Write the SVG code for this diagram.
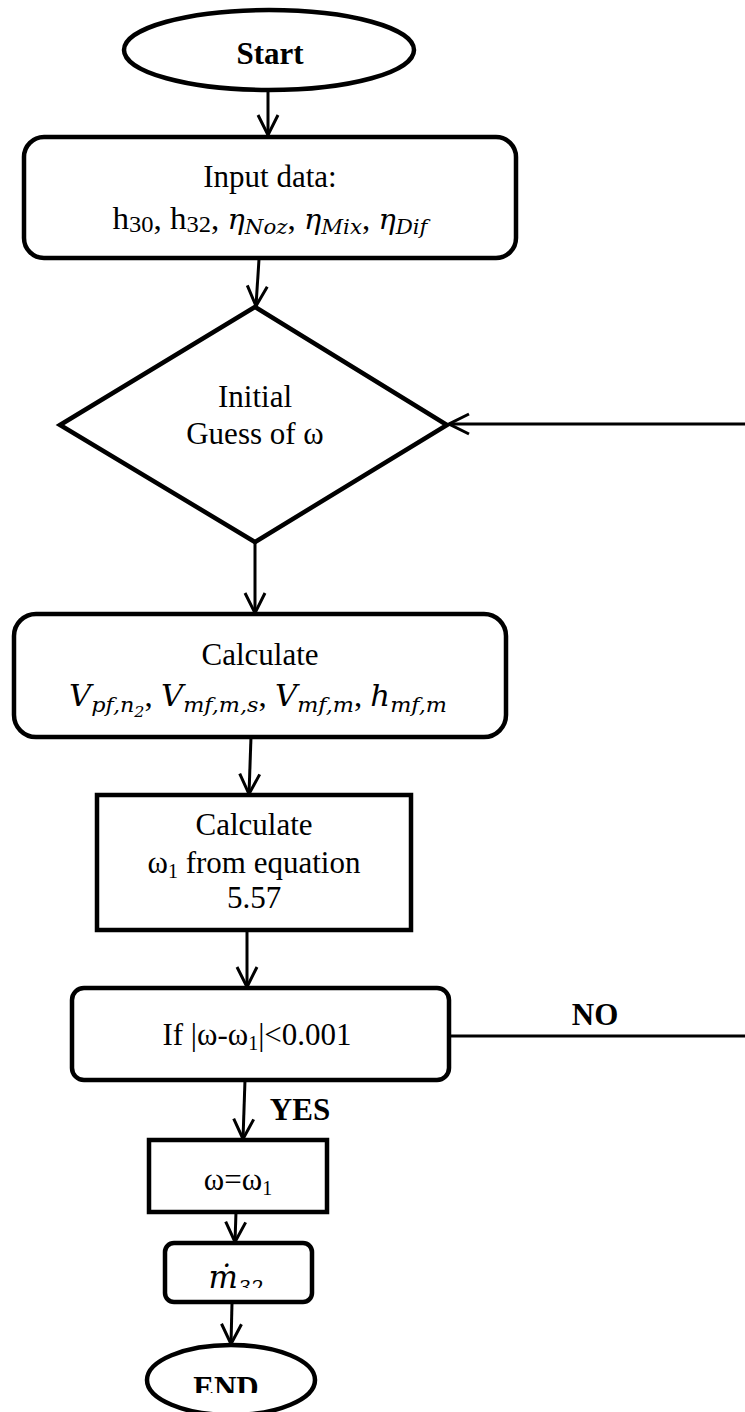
<svg xmlns="http://www.w3.org/2000/svg" width="745" height="1412" viewBox="0 0 745 1412">
  <defs>
    <style>
      .shape { fill: #ffffff; stroke: #000000; stroke-width: 4.5; }
      .conn { fill: none; stroke: #000000; stroke-width: 3; }
      .t { font-family: "Liberation Serif", "Times New Roman", serif; font-size: 31px; fill: #000000; text-anchor: middle; }
      .b { font-weight: bold; }
      .m { font-family: "DejaVu Serif", "Liberation Serif", serif; font-style: italic; }
    </style>
    <marker id="arr" viewBox="-24 -12 26 24" markerWidth="26" markerHeight="24" refX="0" refY="0" orient="auto" markerUnits="userSpaceOnUse">
      <path d="M-20,-10 L0,0 L-20,10" fill="none" stroke="#000000" stroke-width="3" stroke-linejoin="miter"/>
    </marker>
    <clipPath id="clipM"><rect x="160" y="1240" width="160" height="48"/></clipPath>
    <clipPath id="clipEnd"><rect x="140" y="1340" width="180" height="53"/></clipPath>
  </defs>

  <g id="connectors">
    <line class="conn" x1="268" y1="90" x2="268" y2="135" marker-end="url(#arr)"/>
    <line class="conn" x1="259" y1="259" x2="256" y2="306" marker-end="url(#arr)"/>
    <line class="conn" x1="255" y1="542" x2="255" y2="613" marker-end="url(#arr)"/>
    <line class="conn" x1="251" y1="737" x2="249" y2="794" marker-end="url(#arr)"/>
    <line class="conn" x1="247" y1="930" x2="247" y2="987" marker-end="url(#arr)"/>
    <line class="conn" x1="449" y1="1036" x2="745" y2="1036"/>
    <line class="conn" x1="745" y1="424" x2="449" y2="424" marker-end="url(#arr)"/>
    <line class="conn" x1="245" y1="1080" x2="243" y2="1139" marker-end="url(#arr)"/>
    <line class="conn" x1="236" y1="1212" x2="235" y2="1242" marker-end="url(#arr)"/>
    <line class="conn" x1="232" y1="1303" x2="231" y2="1344" marker-end="url(#arr)"/>
    <text class="t b" x="595" y="1025" font-size="30">NO</text>
    <text class="t b" x="300" y="1120" font-size="30">YES</text>
  </g>

  <g id="start">
    <ellipse class="shape" cx="269" cy="50" rx="145" ry="40"/>
    <text class="t b" x="270" y="64">Start</text>
  </g>

  <g id="input">
    <rect class="shape" x="24" y="137" width="492" height="121" rx="20"/>
    <text class="t" x="270" y="187">Input data:</text>
    <text class="t" x="270" y="229" textLength="315" lengthAdjust="spacingAndGlyphs">h<tspan font-size="23" dy="3">30</tspan><tspan dy="-3">, h</tspan><tspan font-size="23" dy="3">32</tspan><tspan dy="-3">, </tspan><tspan class="m" font-size="27">η</tspan><tspan class="m" font-size="20" dy="5">Noz</tspan><tspan dy="-5">, </tspan><tspan class="m" font-size="27">η</tspan><tspan class="m" font-size="20" dy="5">Mix</tspan><tspan dy="-5">, </tspan><tspan class="m" font-size="27">η</tspan><tspan class="m" font-size="20" dy="5">Dif</tspan></text>
  </g>

  <g id="guess">
    <polygon class="shape" points="60,425 255,307 447,425 255,542"/>
    <text class="t" x="255" y="407">Initial</text>
    <text class="t" x="255" y="444">Guess of ω</text>
  </g>

  <g id="calc1">
    <rect class="shape" x="14" y="614" width="492" height="123" rx="22"/>
    <text class="t" x="260" y="665">Calculate</text>
    <text class="t" x="258" y="706" textLength="378" lengthAdjust="spacingAndGlyphs"><tspan class="m" font-size="29">V</tspan><tspan class="m" font-size="21" dy="6">pf,n</tspan><tspan class="m" font-size="15" dy="5">2</tspan><tspan dy="-11">, </tspan><tspan class="m" font-size="29">V</tspan><tspan class="m" font-size="21" dy="6">mf,m,s</tspan><tspan dy="-6">, </tspan><tspan class="m" font-size="29">V</tspan><tspan class="m" font-size="21" dy="6">mf,m</tspan><tspan dy="-6">, </tspan><tspan class="m" font-size="29">h</tspan><tspan class="m" font-size="21" dy="6">mf,m</tspan></text>
  </g>

  <g id="calc2">
    <rect class="shape" x="97" y="795" width="314" height="135"/>
    <text class="t" x="254" y="835">Calculate</text>
    <text class="t" x="254" y="873">ω<tspan font-size="20" dy="5">1</tspan><tspan dy="-5"> from equation</tspan></text>
    <text class="t" x="254" y="908">5.57</text>
  </g>

  <g id="check">
    <rect class="shape" x="72" y="988" width="377" height="92" rx="12"/>
    <text class="t" x="257" y="1045">If |ω-ω<tspan font-size="20" dy="5">1</tspan><tspan dy="-5">|&lt;0.001</tspan></text>
  </g>

  <g id="assign">
    <rect class="shape" x="149" y="1140" width="178" height="72"/>
    <text class="t" x="238" y="1190" font-size="28">ω=ω<tspan font-size="20" dy="5">1</tspan></text>
  </g>

  <g id="massflow">
    <rect class="shape" x="165" y="1243" width="147" height="59" rx="9"/>
    <text class="t m" x="236" y="1288" font-size="30" clip-path="url(#clipM)">ṁ<tspan font-size="20" dy="7">32</tspan></text>
  </g>

  <g id="end">
    <ellipse class="shape" cx="231" cy="1380" rx="84" ry="35"/>
    <text class="t b" x="226" y="1398" font-size="31" clip-path="url(#clipEnd)">END</text>
  </g>
</svg>
